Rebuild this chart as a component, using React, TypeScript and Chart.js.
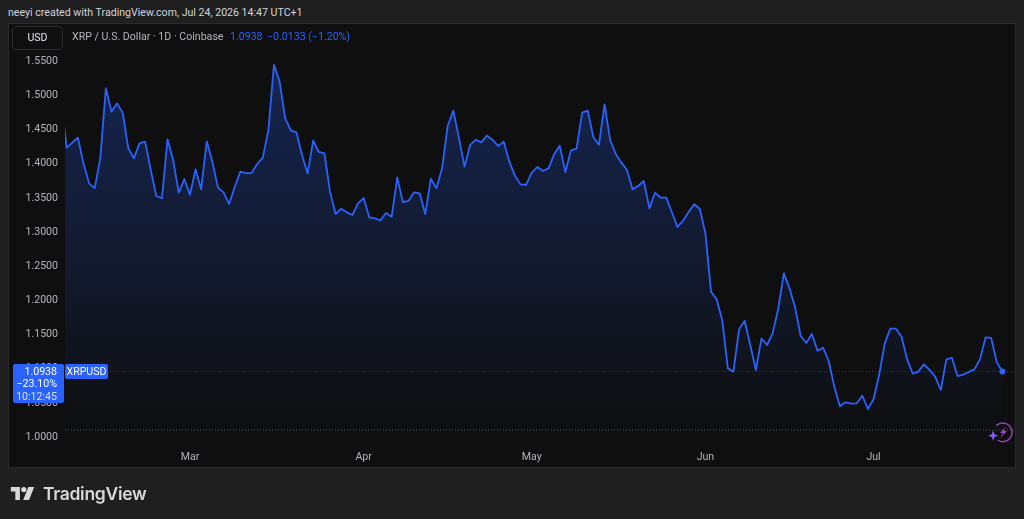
import React, { useEffect, useRef } from "react";
import { Chart, registerables } from "chart.js";

Chart.register(...registerables);

// Daily closes, first entry is the day just left of the visible pane
const closes: number[] = [
  1.4917, 1.4214, 1.4287, 1.4361, 1.3985, 1.3692, 1.3619, 1.4058, 1.5083, 1.4741, 1.4863, 1.4727,
  1.4204, 1.4058, 1.4278, 1.4302, 1.3887, 1.3507, 1.3472, 1.4336, 1.4034, 1.3555, 1.3755, 1.3521,
  1.3897, 1.3604, 1.4307, 1.4009, 1.3629, 1.356, 1.3389, 1.3643, 1.3863, 1.3843, 1.3843, 1.3975,
  1.4068, 1.4473, 1.5425, 1.5181, 1.4644, 1.4468, 1.4439, 1.4107, 1.3838, 1.4317, 1.4151, 1.4131,
  1.357, 1.3243, 1.3321, 1.3267, 1.3228, 1.3399, 1.3477, 1.3194, 1.318, 1.315, 1.3258, 1.3204,
  1.378, 1.3419, 1.3433, 1.356, 1.3546, 1.3243, 1.376, 1.3619, 1.3912, 1.4532, 1.4756, 1.4361,
  1.3936, 1.4253, 1.4331, 1.4292, 1.439, 1.4331, 1.4239, 1.4302, 1.4009, 1.3804, 1.3677, 1.3668,
  1.3848, 1.3931, 1.3873, 1.3912, 1.4117, 1.4244, 1.3858, 1.4175, 1.42, 1.4727, 1.4756, 1.4366,
  1.4258, 1.4849, 1.4322, 1.4122, 1.3995, 1.3887, 1.3604, 1.3653, 1.3726, 1.3326, 1.3555, 1.3482,
  1.3482, 1.3272, 1.3053, 1.3145, 1.3272, 1.3385, 1.3316, 1.296, 1.2106, 1.1994, 1.1691, 1.0983,
  1.0935, 1.1554, 1.1681, 1.1325, 1.0959, 1.1418, 1.1325, 1.1496, 1.1862, 1.2374, 1.2155, 1.1877,
  1.1457, 1.1354, 1.1486, 1.1242, 1.1286, 1.1091, 1.0715, 1.0427, 1.0486, 1.0466, 1.0471, 1.0583,
  1.0388, 1.053, 1.0886, 1.1349, 1.1564, 1.1564, 1.1447, 1.1115, 1.0905, 1.0935, 1.1042, 1.0959,
  1.0861, 1.0666, 1.1115, 1.1135, 1.0871, 1.0891, 1.093, 1.0969, 1.1115, 1.1437, 1.1428, 1.1071,
  1.0938,
];

const priceTicks: number[] = [1.0, 1.05, 1.1, 1.15, 1.2, 1.25, 1.3, 1.35, 1.4, 1.45, 1.5, 1.55];
const monthLabels: string[] = ["Mar", "Apr", "May", "Jun", "Jul"];
const monthIndexes: number[] = [23, 54, 84, 115, 145];
const lastPrice = 1.0938;
const baseLine = 1.00805;

const X_MIN = 0.702;
const X_MAX = 170.25;
const Y_MIN = 0.9861;
const Y_MAX = 1.6025;

const BLUE = "#2962ff";
const FONT = "Roboto";
const SMALL = 10.6;

const abs = (s: React.CSSProperties): React.CSSProperties => ({ position: "absolute", whiteSpace: "nowrap", ...s });

export default function App() {
  const ref = useRef<HTMLCanvasElement | null>(null);

  useEffect(() => {
    document.body.style.margin = "0";
    document.body.style.background = "#1f1f1f";
    const chart = new Chart(ref.current!, {
      type: "line",
      data: {
        datasets: [
          {
            data: closes.map((y, x) => ({ x, y })),
            borderColor: BLUE,
            borderWidth: 1.8,
            borderJoinStyle: "round",
            tension: 0,
            fill: "start",
            backgroundColor: (ctx: any) => {
              const g = ctx.chart.ctx.createLinearGradient(0, 60, 0, 440);
              g.addColorStop(0, "rgba(41,98,255,0.28)");
              g.addColorStop(1, "rgba(41,98,255,0.0)");
              return g;
            },
            pointRadius: (ctx: any) => (ctx.dataIndex === closes.length - 1 ? 3 : 0),
            pointBackgroundColor: BLUE,
            pointBorderWidth: 0,
          },
          {
            data: [{ x: X_MIN, y: lastPrice }, { x: X_MAX, y: lastPrice }],
            borderColor: "rgba(41,98,255,0.45)",
            borderWidth: 1,
            borderDash: [1, 2],
            pointRadius: 0,
          },
          {
            data: [{ x: X_MIN, y: baseLine }, { x: X_MAX, y: baseLine }],
            borderColor: "rgba(120,123,134,0.7)",
            borderWidth: 1,
            borderDash: [1, 2],
            pointRadius: 0,
          },
        ],
      } as any,
      options: {
        animation: false,
        responsive: false,
        events: [],
        layout: { padding: { left: 9, right: 9, top: 24, bottom: 52 } },
        plugins: { legend: { display: false }, tooltip: { enabled: false }, title: { display: false } },
        scales: {
          x: {
            type: "linear",
            min: X_MIN,
            max: X_MAX,
            grid: { display: false, drawTicks: false },
            border: { display: false },
            afterBuildTicks: (s: any) => {
              s.ticks = monthIndexes.map((value) => ({ value }));
            },
            afterFit: (s: any) => {
              s.height = 22;
            },
            ticks: {
              autoSkip: false,
              maxRotation: 0,
              padding: 6,
              color: "#b2b5be",
              font: { family: FONT, size: SMALL },
              callback: (v: any) => monthLabels[monthIndexes.indexOf(Number(v))] ?? "",
            },
          },
          y: {
            type: "linear",
            min: Y_MIN,
            max: Y_MAX,
            grid: { display: false, drawTicks: false },
            border: { display: false },
            afterBuildTicks: (s: any) => {
              s.ticks = priceTicks.map((value) => ({ value }));
            },
            afterFit: (s: any) => {
              s.width = 56;
            },
            ticks: {
              padding: 7,
              labelOffset: 1.5,
              color: "#b2b5be",
              font: { family: FONT, size: SMALL },
              callback: (v: any) => Number(v).toFixed(4),
            },
          },
        },
      },
    } as any);
    return () => chart.destroy();
  }, []);

  return (
    <div style={{ position: "absolute", left: 0, top: 0, width: 1024, height: 519, background: "#1f1f1f", overflow: "hidden", fontFamily: FONT }}>
      <div style={abs({ left: 8, top: 2, fontSize: SMALL, lineHeight: "22px", color: "#d1d4dc" })}>
        neeyi created with TradingView.com, Jul 24, 2026 14:47 UTC+1
      </div>
      <div style={abs({ left: 9, top: 24, width: 1006, height: 443, background: "#0f0f0f", boxShadow: "0 0 0 1px #2a2a2a" })} />
      <canvas ref={ref} width={1024} height={519} style={{ position: "absolute", left: 0, top: 0, width: 1024, height: 519 }} />
      <div style={abs({ left: 12, top: 26, width: 49, height: 22, border: "1px solid #2e2e2e", borderRadius: 4, fontSize: SMALL, lineHeight: "22px", color: "#e0e3eb", textAlign: "center" })}>USD</div>
      <div style={abs({ left: 72, top: 29, fontSize: SMALL, lineHeight: "15px", color: "#b2b5be" })}>XRP / U.S. Dollar · 1D · Coinbase</div>
      <div style={abs({ left: 230, top: 29, fontSize: SMALL, lineHeight: "15px", color: "#2962ff" })}>1.0938</div>
      <div style={abs({ left: 267, top: 29, fontSize: SMALL, lineHeight: "15px", color: "#2962ff" })}>−0.0133 (−1.20%)</div>
      <div style={abs({ left: 13, top: 364, width: 51, height: 39, background: BLUE, borderRadius: 2, color: "#fff", fontSize: SMALL, lineHeight: "12.3px", textAlign: "right", paddingTop: 2, boxSizing: "border-box", paddingRight: 7 })}>
        <div>1.0938</div>
        <div>−23.10%</div>
        <div style={{ color: "#d6e0ff" }}>10:12:45</div>
      </div>
      <div style={abs({ left: 65, top: 364, width: 43, height: 15, background: BLUE, borderRadius: 2, color: "#fff", fontSize: SMALL, lineHeight: "15px", textAlign: "center" })}>XRPUSD</div>
      <svg style={{ position: "absolute", left: 988, top: 422 }} width={28} height={24} viewBox="0 0 28 24">
        <path d="M8.4 3.6 A9.3 9.3 0 1 1 9.5 18" fill="none" stroke="#9b3fbf" strokeWidth={1.5} />
        <path d="M18 4.5 L12 11 L15 11 L12.2 16 L19 9 L15.5 9 Z" fill="#a445c8" />
        <path d="M5.2 8.5 L6.6 12.3 L10.4 13.7 L6.6 15.1 L5.2 18.9 L3.8 15.1 L0 13.7 L3.8 12.3 Z" fill="#7c5cff" />
      </svg>
      <svg style={{ position: "absolute", left: 10, top: 487 }} width={25} height={13} viewBox="0 0 36 20">
        <path d="M0 0 H14 V20 H7 V7 H0 Z" fill="#d9d9d9" />
        <circle cx="20" cy="4" r="4" fill="#d9d9d9" />
        <path d="M27 0 H36 L28 20 H19 Z" fill="#d9d9d9" />
      </svg>
      <div style={abs({ left: 43, top: 482, fontSize: 17.5, lineHeight: "24px", fontWeight: 600, color: "#d9d9d9", fontFamily: "Inter", letterSpacing: -0.3 })}>TradingView</div>
    </div>
  );
}
